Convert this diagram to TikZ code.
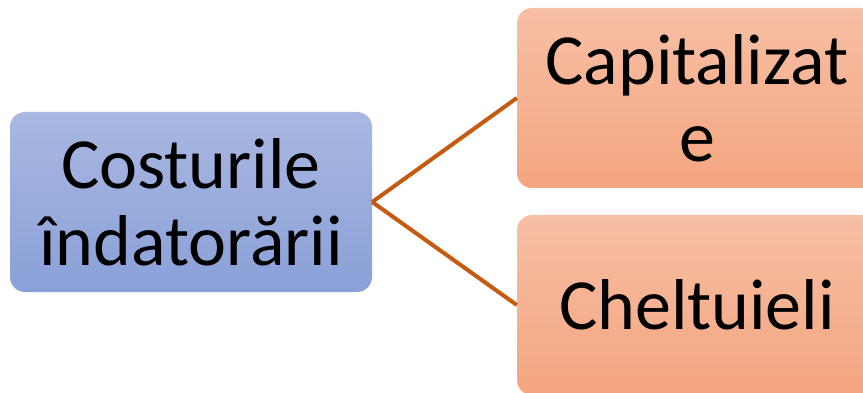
\documentclass[tikz,border=0pt]{standalone}
\usepackage{fontspec}
\setmainfont{Carlito}
\definecolor{bluetop}{HTML}{A9B8E1}
\definecolor{bluebot}{HTML}{8AA0D8}
\definecolor{ortop}{HTML}{F7BFA5}
\definecolor{orbot}{HTML}{F4A57F}
\definecolor{linec}{HTML}{C55A11}
\tikzset{
  leftbox/.style={rectangle, rounded corners=15pt, minimum width=362pt, minimum height=180pt, top color=bluetop, bottom color=bluebot, draw=none, align=center, inner sep=0pt, font=\fontsize{72}{77}\selectfont},
  rightbox/.style={rectangle, rounded corners=15pt, minimum width=360pt, minimum height=180pt, top color=ortop, bottom color=orbot, draw=none, align=center, inner sep=0pt, font=\fontsize{72}{77}\selectfont},
  conn/.style={draw=linec, line width=4pt}
}
\begin{document}
\begin{tikzpicture}[x=1pt,y=-1pt]
\useasboundingbox (0,0) rectangle (863,393);
\clip (0,0) rectangle (863,393);
\node[leftbox] (src) at (191,202) {Costurile\\îndatorării};
\node[rightbox] (cap) at (697,98) {Capitalizat\\e};
\node[rightbox] (che) at (697,305) {Cheltuieli};
\draw[conn] (src.east) -- (cap.west);
\draw[conn] (src.east) -- (che.west);
\end{tikzpicture}
\end{document}
